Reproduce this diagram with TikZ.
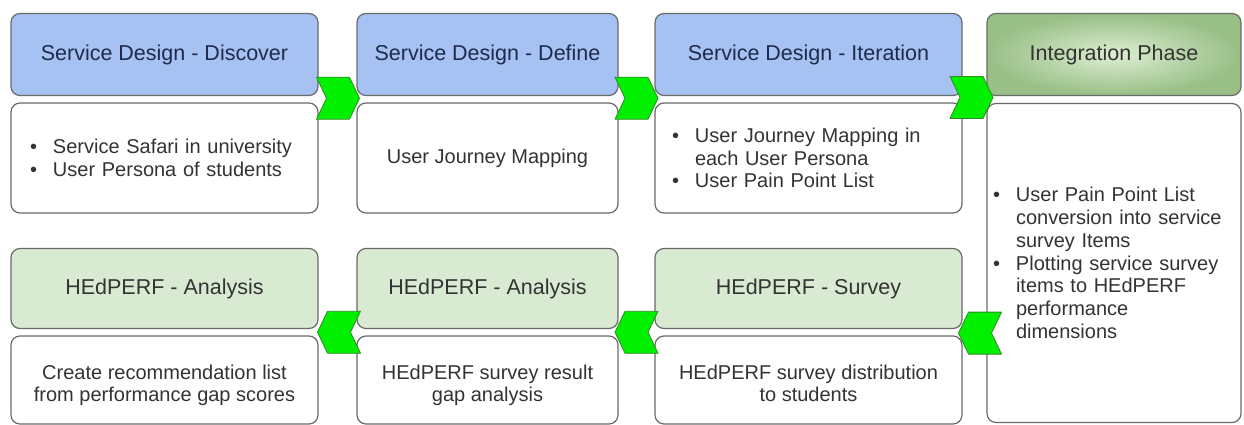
\documentclass[tikz,border=0pt]{standalone}
\usepackage{fontspec}
\setmainfont{Liberation Sans}
\usetikzlibrary{calc}
\definecolor{bordergray}{HTML}{6A6A6A}
\definecolor{hblue}{HTML}{A6C2F2}
\definecolor{hgreen}{HTML}{D9EAD3}
\definecolor{ginner}{HTML}{DDEDD2}
\definecolor{gouter}{HTML}{98BF86}
\definecolor{navytext}{HTML}{1E2B4A}
\definecolor{graytext}{HTML}{333333}
\definecolor{chevfill}{HTML}{00F000}
\definecolor{chevdraw}{HTML}{2E8B22}
\newcommand\bitem[1]{\makebox[23pt][l]{•}#1}
\newcommand\bcont[1]{\hspace*{23pt}#1}
\newcommand\lowtext[1]{\raisebox{-6pt}[\height][\depth]{\begin{tabular}{@{}c@{}}#1\end{tabular}}}
\tikzset{
  boxbase/.style={draw=bordergray, line width=1.2pt, rounded corners=9pt, inner sep=0pt},
  hdrtop/.style={boxbase, fill=hblue, minimum height=82pt, text=navytext, font=\fontsize{21.5}{24}\selectfont},
  hdrbot/.style={boxbase, fill=hgreen, minimum height=80pt, text=graytext, font=\fontsize{21.5}{24}\selectfont},
  hdrint/.style={boxbase, inner color=ginner, outer color=gouter, minimum height=82pt, text=graytext, font=\fontsize{21.5}{24}\selectfont},
  bodybox/.style={boxbase, fill=white, text=graytext, font=\fontsize{20}{22.8}\selectfont, align=center},
  chevpath/.style={fill=chevfill, draw=chevdraw, line width=0.8pt, line join=round},
  chevR/.pic={\path[chevpath] (-21.5,-21) -- (11.5,-21) -- (21.5,0) -- (11.5,21) -- (-21.5,21) -- (-11.5,0) -- cycle;},
  chevL/.pic={\path[chevpath] (21.5,-21) -- (-11.5,-21) -- (-21.5,0) -- (-11.5,21) -- (21.5,21) -- (11.5,0) -- cycle;}
}
\begin{document}
\begin{tikzpicture}[x=1pt,y=-1pt]
\useasboundingbox[fill=white] (0,0) rectangle (1244,425);
% top headers
\node[hdrtop, minimum width=307pt] (h1) at (164.5,54.5) {Service Design - Discover};
\node[hdrtop, minimum width=261pt] (h2) at (487.5,54.5) {Service Design - Define};
\node[hdrtop, minimum width=307pt] (h3) at (808.5,54.5) {Service Design - Iteration};
\node[hdrint, minimum width=254pt] (h4) at (1114,54.5) {Integration Phase};
% top bodies
\node[bodybox, minimum height=110pt, text width=269pt, inner xsep=19pt, align=left] (b1) at (164.5,158)
  {\bitem{Service Safari in university}\\ \bitem{User Persona of students}};
\node[bodybox, minimum width=261pt, minimum height=110pt] (b2) at (487.5,158) {User Journey Mapping};
\node[bodybox, minimum height=110pt, text width=273pt, inner xsep=17pt, align=left] (b3) at (808.5,158)
  {\bitem{User Journey Mapping in}\\ \bcont{each User Persona}\\ \bitem{User Pain Point List}};
\node[bodybox, minimum height=319pt, text width=242pt, inner xsep=6pt, align=left] (b4) at (1114,263)
  {\bitem{User Pain Point List}\\ \bcont{conversion into service}\\ \bcont{survey Items}\\
   \bitem{Plotting service survey}\\ \bcont{items to HEdPERF}\\ \bcont{performance}\\ \bcont{dimensions}};
% bottom headers
\node[hdrbot, minimum width=307pt] (g1) at (164.5,288.5) {HEdPERF - Analysis};
\node[hdrbot, minimum width=261pt] (g2) at (487.5,288.5) {HEdPERF - Analysis};
\node[hdrbot, minimum width=307pt] (g3) at (808.5,288.5) {HEdPERF - Survey};
% bottom bodies
\node[bodybox, minimum width=307pt, minimum height=88pt] (c1) at (164.5,380)
  {\lowtext{Create recommendation list\\ from performance gap scores}};
\node[bodybox, minimum width=261pt, minimum height=88pt] (c2) at (487.5,380)
  {\lowtext{HEdPERF survey result\\ gap analysis}};
\node[bodybox, minimum width=307pt, minimum height=88pt] (c3) at (808.5,380)
  {\lowtext{HEdPERF survey distribution\\ to students}};
% chevrons
\pic at ($(h1.south east)!0.5!(b2.north west)+(0.5,-1)$) {chevR};
\pic at ($(h2.south east)!0.5!(b3.north west)+(0,-1)$) {chevR};
\pic at ($(h3.south east)!0.5!(b4.north west)+(-3,-2)$) {chevR};
\pic at ($(g1.south east)!0.5!(c2.north west)+(1.5,0)$) {chevL};
\pic at ($(g2.south east)!0.5!(c3.north west)$) {chevL};
\pic at ($(g3.south east)!0.5!(b4.west |- g3.south)+(5.5,4)$) {chevL};
\end{tikzpicture}
\end{document}
